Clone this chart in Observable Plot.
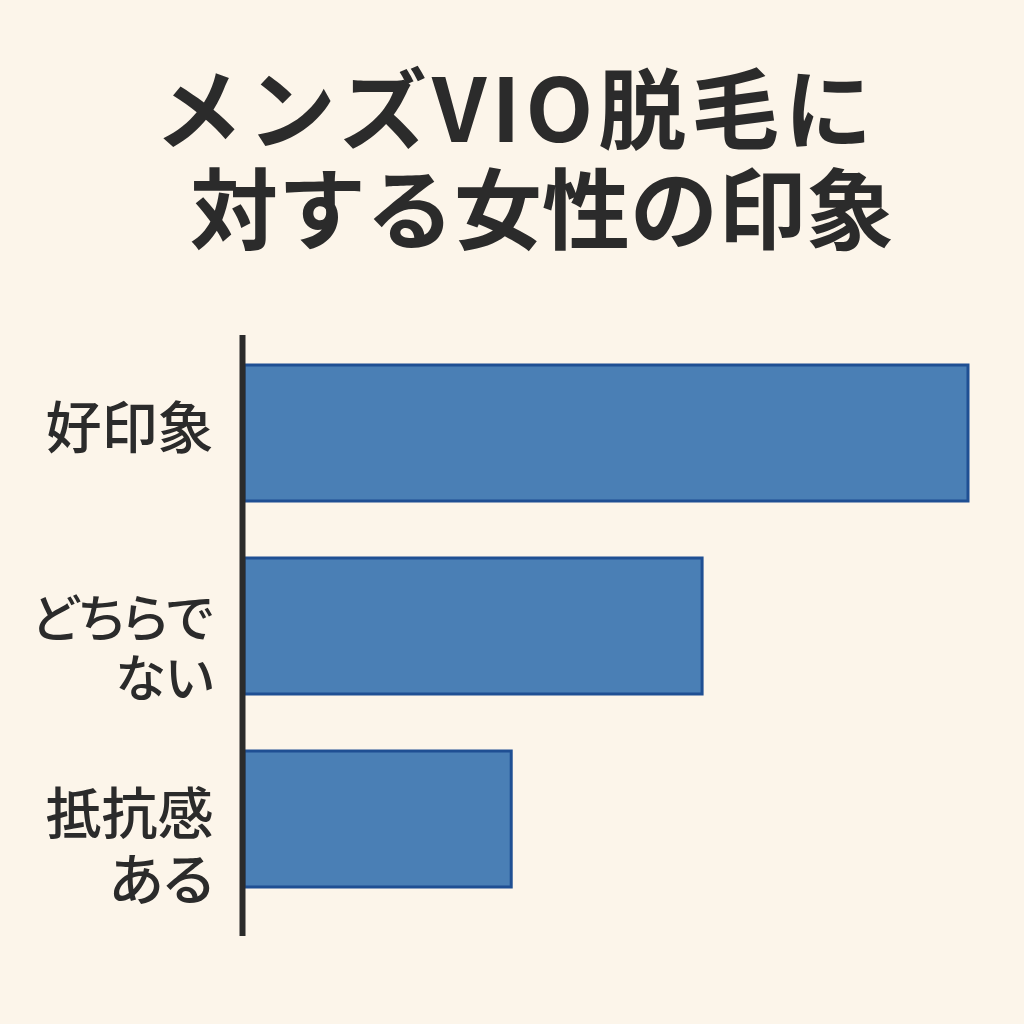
<!DOCTYPE html>
<html><head><meta charset="utf-8">
<script src="https://cdn.jsdelivr.net/npm/d3@7"></script>
<script src="https://cdn.jsdelivr.net/npm/@observablehq/plot@0.6"></script>
<style>
html,body{margin:0;padding:0;background:#fcf5ea;}
body{width:1024px;height:1024px;overflow:hidden;font-family:"Noto Sans CJK JP",sans-serif;}
#title{height:300px;box-sizing:border-box;padding-top:54px;color:#2b2b2b;font-weight:700;font-size:88px;line-height:100px;}
.l1{text-align:center;padding-left:8px;letter-spacing:5px;}
.l2{text-align:center;padding-left:60px;}
svg text{font-feature-settings:"palt";}
</style></head><body>
<div id="title"><div class="l1">メンズVIO脱毛に</div><div class="l2">対する女性の印象</div></div>
<div id="chart"></div>
<script>
const categories = ["好印象", "どちらでない", "抵抗感ある"];
const labels = ["好印象", "どちらで\nない", "抵抗感\nある"];
const labelSizes = [56, 51, 56];
const values = [55, 34.8, 20.3];
const data = categories.map((c, i) => ({category: c, label: labels[i], size: labelSizes[i], value: values[i]}));
const chart = Plot.plot({
  width: 1024, height: 680,
  marginTop: 7, marginBottom: 35, marginLeft: 244, marginRight: 56,
  style: {background: "transparent", fontFamily: "'Noto Sans CJK JP', sans-serif"},
  x: {domain: [0, 55], axis: null},
  y: {domain: categories, padding: 0.295, axis: null},
  marks: [
    Plot.barX(data, {x: "value", y: "category", fill: "#4a7fb5", stroke: "#1f4f93", strokeWidth: 3}),
    Plot.ruleX([0], {stroke: "#2b2b2b", strokeWidth: 6, insetTop: 28, insetBottom: 9, dx: -2}),
    Plot.text(data, {x: 0, y: "category", text: "label", textAnchor: "end", dx: -31, lineAnchor: "top", dy: -32, fontSize: "size", lineHeight: 1.17, fill: "#2b2b2b", fontWeight: 500})
  ]
});
document.getElementById("chart").appendChild(chart);
</script>
</body></html>
